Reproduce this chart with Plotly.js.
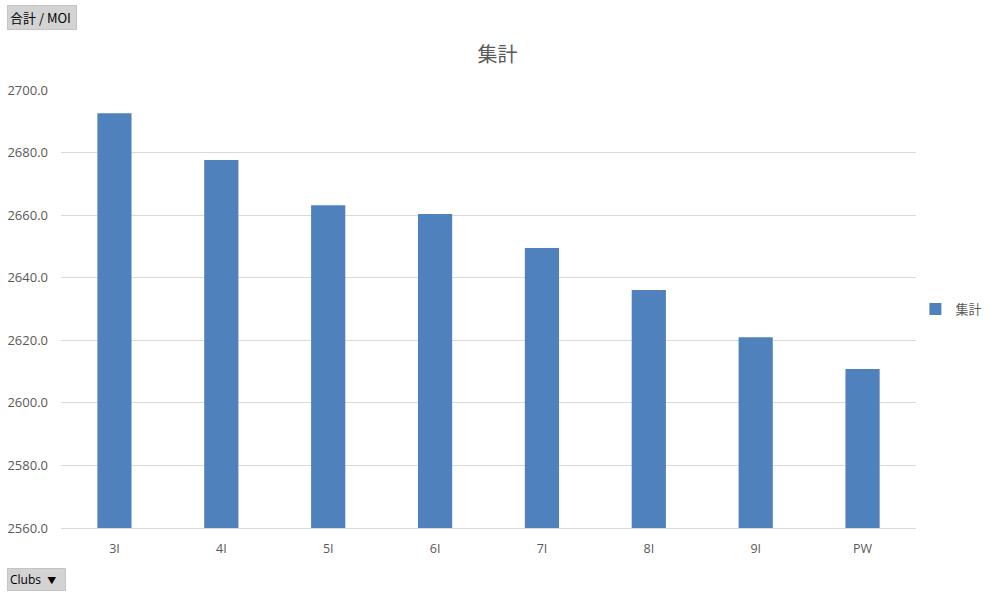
<!DOCTYPE html>
<html>
<head>
<meta charset="utf-8" />
<script src="https://cdn.plot.ly/plotly-3.0.1.min.js"></script>
<style>
  html, body { margin: 0; padding: 0; background: white; }
  #chart { width: 995px; height: 593px; }
</style>
</head>
<body>
<div id="chart"></div>
<script>
  // Schlaeger und MOI-Summen
  const clubs = ["3I", "4I", "5I", "6I", "7I", "8I", "9I", "PW"];
  const moiTotals = [2692.6, 2677.6, 2663.2, 2660.4, 2649.5, 2636.1, 2621.0, 2610.8];
  const seriesName = "集計";

  const textColor = "#595959";
  const gridColor = "#d9d9d9";
  const latinFont = "'Open Sans', 'Noto Sans CJK JP', sans-serif";
  const cjkFont = "'Noto Sans CJK JP', sans-serif";

  const barTrace = {
    x: clubs,
    y: moiTotals,
    type: "bar",
    name: seriesName,
    marker: { color: "#4f81bd" },
    width: 0.32,
    hoverinfo: "x+y",
    showlegend: true,
  };

  const layout = {
    width: 995,
    height: 593,
    margin: { l: 61, r: 79, t: 90, b: 65, autoexpand: false },
    paper_bgcolor: "white",
    plot_bgcolor: "white",
    font: { family: latinFont, size: 12, color: textColor },
    title: {
      text: "集計",
      font: { family: cjkFont, size: 20, color: textColor },
      x: 0.5,
      xanchor: "center",
      y: 0.907,
      yanchor: "middle",
    },
    xaxis: {
      type: "category",
      showgrid: false,
      showline: true,
      linecolor: gridColor,
      linewidth: 1,
      ticks: "",
      ticklabelstandoff: 9,
      tickfont: { size: 12.5, color: textColor },
    },
    yaxis: {
      range: [2560, 2700],
      dtick: 20,
      tick0: 2560,
      tickformat: ".1f",
      showgrid: true,
      gridcolor: gridColor,
      zeroline: false,
      showline: false,
      ticks: "",
      ticklabelstandoff: 12,
      tickfont: { size: 13, color: textColor },
    },
    legend: {
      xref: "container",
      x: 0.92,
      y: 0.5,
      xanchor: "left",
      yanchor: "middle",
      font: { family: cjkFont, size: 13, color: textColor },
      itemwidth: 30,
    },
    annotations: [
      {
        xref: "paper", yref: "paper",
        x: -61 / 855 + 7 / 855, y: 1 + (90 - 5) / 438,
        xanchor: "left", yanchor: "top",
        text: "合計 / MOI ",
        showarrow: false,
        font: { family: cjkFont, size: 13, color: "#000000" },
        bgcolor: "#d3d3d3",
        bordercolor: "#c4c4c4",
        borderwidth: 1,
        borderpad: 2,
      },
      {
        xref: "paper", yref: "paper",
        x: -61 / 855 + 7 / 855, y: -(568 - 528) / 438,
        xanchor: "left", yanchor: "top",
        text: "Clubs  <span style='font-size:9px'>▼</span>  ",
        showarrow: false,
        font: { family: latinFont, size: 12, color: "#000000" },
        bgcolor: "#d3d3d3",
        bordercolor: "#c4c4c4",
        borderwidth: 1,
        borderpad: 2,
      },
    ],
  };

  Plotly.newPlot("chart", [barTrace], layout, { displayModeBar: false });
</script>
</body>
</html>
